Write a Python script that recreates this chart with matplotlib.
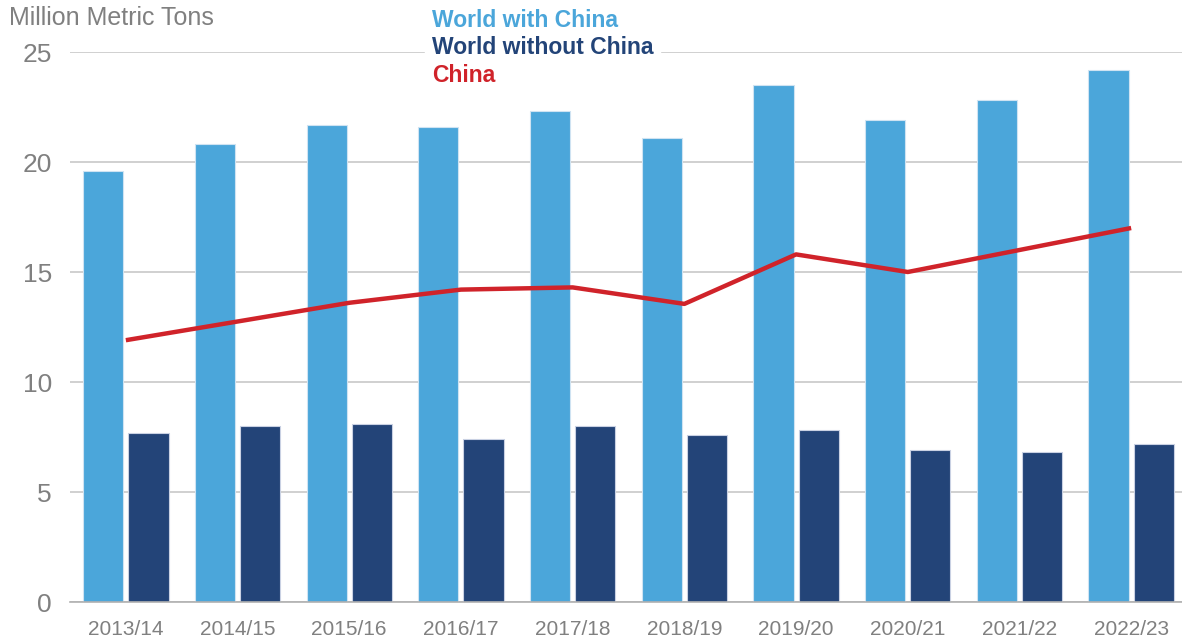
import matplotlib
matplotlib.use("Agg")
import matplotlib.pyplot as plt
import numpy as np

plt.rcParams["font.family"] = ["Liberation Sans", "DejaVu Sans"]

YEARS = ["2013/14", "2014/15", "2015/16", "2016/17", "2017/18",
         "2018/19", "2019/20", "2020/21", "2021/22", "2022/23"]
WORLD_WITH_CHINA = [19.6, 20.8, 21.7, 21.6, 22.3, 21.1, 23.5, 21.9, 22.8, 24.2]
WORLD_WITHOUT_CHINA = [7.7, 8.0, 8.1, 7.4, 8.0, 7.6, 7.8, 6.9, 6.8, 7.2]
CHINA = [11.9, 12.75, 13.6, 14.2, 14.3, 13.55, 15.8, 15.0, 16.0, 17.0]

LIGHT = "#4BA6DA"
NAVY = "#234478"
RED = "#D0232A"
GREY = "#808080"

W, H = 1182, 638
fig = plt.figure(figsize=(W / 100, H / 100), dpi=100)
ax = fig.add_axes([70 / W, (H - 602) / H, (1187 - 70) / W, (602 - 52) / H])

x = np.arange(len(YEARS))
bw = 0.36
gap = 0.045
b1 = ax.bar(x - (bw + gap) / 2, WORLD_WITH_CHINA, width=bw, color=LIGHT,
            edgecolor="#cfe3f2", linewidth=0.8, zorder=2,
            label="World with China")
b2 = ax.bar(x + (bw + gap) / 2, WORLD_WITHOUT_CHINA, width=bw, color=NAVY,
            edgecolor="#c9d1e3", linewidth=0.8, zorder=2,
            label="World without China")
ln, = ax.plot(x, CHINA, color=RED, linewidth=3.2, zorder=3,
              solid_capstyle="butt", label="China")

ax.set_xlim(-0.5, len(YEARS) - 0.5)
ax.set_ylim(0, 25)
ax.set_yticks([0, 5, 10, 15, 20, 25])
ax.set_xticks(x)
ax.set_xticklabels(YEARS)
ax.tick_params(axis="x", length=0, pad=13, labelsize=15, labelcolor=GREY)
ax.tick_params(axis="y", length=0, pad=13, labelsize=19, labelcolor=GREY)
ax.grid(axis="y", color="#c8c8c8", linewidth=1.2, zorder=0)
ax.set_axisbelow(True)
for s in ["left", "right", "top"]:
    ax.spines[s].set_visible(False)
ax.spines["bottom"].set_color("#b0b0b0")
ax.spines["bottom"].set_linewidth(1.2)
ax.spines["bottom"].set_zorder(4)

fig.text(9 / W, 1 - 18 / H, "Million Metric Tons", fontsize=18, color=GREY,
         va="center", ha="left")

leg = fig.legend([b1, b2, ln], ["World with China", "World without China", "China"],
                 loc="upper left", bbox_to_anchor=(425 / W, 1 - 2 / H),
                 handlelength=0, handletextpad=0, frameon=True,
                 facecolor="white", edgecolor="white", framealpha=1,
                 labelspacing=0.2, borderpad=0.3, borderaxespad=0,
                 labelcolor=[LIGHT, NAVY, RED],
                 prop={"size": 16.5, "weight": "bold"})
for h in leg.legend_handles:
    h.set_visible(False)

fig.savefig("out.png", dpi=100)
